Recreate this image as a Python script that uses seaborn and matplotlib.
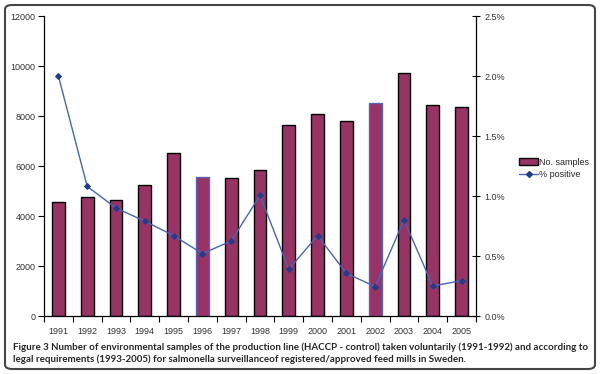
import numpy as np
import pandas as pd
import seaborn as sns
import matplotlib
matplotlib.use("Agg")
import matplotlib.pyplot as plt
from matplotlib.ticker import PercentFormatter, FixedLocator, NullFormatter
from matplotlib.patches import FancyBboxPatch, Patch
from matplotlib.lines import Line2D

years = ["1991", "1992", "1993", "1994", "1995", "1996", "1997", "1998",
         "1999", "2000", "2001", "2002", "2003", "2004", "2005"]
samples = [4560, 4780, 4640, 5240, 6520, 5570, 5540, 5840,
           7650, 8080, 7810, 8510, 9740, 8450, 8380]
pct_positive = [2.00, 1.08, 0.90, 0.79, 0.67, 0.52, 0.625, 1.005,
                0.39, 0.67, 0.355, 0.245, 0.80, 0.25, 0.295]
caption_lines = [
    "Figure 3 Number of environmental samples of the production line (HACCP - control) taken voluntarily (1991-1992) and according to",
    "legal requirements (1993-2005) for salmonella surveillanceof registered/approved feed mills in Sweden.",
]

sns.set_style("white")
plt.rcParams["font.family"] = ["Liberation Sans", "DejaVu Sans"]

bar_color = "#993366"
line_color = "#4466bb"
marker_color = "#223c8c"

df = pd.DataFrame({"year": years, "samples": samples, "pct": pct_positive})

fig = plt.figure(figsize=(6.0, 3.74), dpi=100)
ax = fig.add_axes([44 / 600, 1 - 316 / 374, 432 / 600, 300 / 374])

sns.barplot(data=df, x="year", y="samples", color=bar_color, width=0.45,
            edgecolor="black", linewidth=1.0, saturation=1, ax=ax)
for i, p in enumerate(ax.patches):
    if years[i] in ("1996", "2002"):
        p.set_edgecolor("#5566bb")

ax.set_xlim(-0.5, len(years) - 0.5)
ax.set_ylim(0, 12000)
ax.set_yticks(np.arange(0, 12001, 2000))
ax.set_xlabel("")
ax.set_ylabel("")
ax.tick_params(axis="x", which="major", length=0, labelsize=6.5, pad=8, colors="#333333")
ax.xaxis.set_minor_locator(FixedLocator(np.arange(-0.5, len(years), 1.0)))
ax.xaxis.set_minor_formatter(NullFormatter())
ax.tick_params(axis="x", which="minor", length=4, width=0.8, direction="out", bottom=True, color="black")
ax.tick_params(axis="y", length=4, width=0.8, direction="out", left=True, labelsize=6.5, pad=2, colors="#333333")
ax.tick_params(axis="y", color="black")
for lab in ax.get_xticklabels() + ax.get_yticklabels():
    lab.set_color("#333333")
for s in ["top", "right"]:
    ax.spines[s].set_visible(False)
for s in ["left", "bottom"]:
    ax.spines[s].set_color("black")
    ax.spines[s].set_linewidth(0.9)

ax2 = ax.twinx()
sns.lineplot(x=np.arange(len(years)), y=pct_positive, ax=ax2, color=line_color,
             linewidth=1.0, marker="D", markersize=3, markerfacecolor=marker_color,
             markeredgecolor=marker_color)
ax2.set_ylim(0, 2.5)
ax2.set_yticks(np.arange(0, 2.51, 0.5))
ax2.yaxis.set_major_formatter(PercentFormatter(xmax=100, decimals=1))
ax2.tick_params(axis="y", length=6, width=0.8, direction="inout", right=True,
                labelsize=6.5, pad=3, colors="#333333")
ax2.tick_params(axis="y", color="black")
for lab in ax2.get_yticklabels():
    lab.set_color("#333333")
for s in ["top", "left", "bottom"]:
    ax2.spines[s].set_visible(False)
ax2.spines["right"].set_color("black")
ax2.spines["right"].set_linewidth(0.9)
ax2.set_ylabel("")

handles = [Patch(facecolor=bar_color, edgecolor="black", linewidth=1.0),
           Line2D([0], [0], color=line_color, linewidth=1.0, marker="D", markersize=3,
                  markerfacecolor=marker_color, markeredgecolor=marker_color)]
fig.legend(handles, ["No. samples", "% positive"], loc="upper left",
           bbox_to_anchor=(515 / 600, 1 - 154 / 374), frameon=False, fontsize=6.5,
           handlelength=2.2, handletextpad=0.1, labelspacing=0.35, borderaxespad=0)

cap_font = ["Lato", "DejaVu Sans"]
fig.text(13 / 600, 1 - 347 / 374, caption_lines[0], fontsize=7.05, fontweight="bold",
         family=cap_font, va="center", ha="left")
fig.text(13 / 600, 1 - 359 / 374, caption_lines[1], fontsize=7.05, fontweight="bold",
         family=cap_font, va="center", ha="left")

border = FancyBboxPatch((5 / 600, 5 / 374), 590 / 600, 364 / 374,
                        boxstyle="round,pad=0,rounding_size=0.012",
                        transform=fig.transFigure, fill=False, edgecolor="#444444",
                        linewidth=1.5)
fig.patches.append(border)

fig.savefig("out.png", dpi=100)
